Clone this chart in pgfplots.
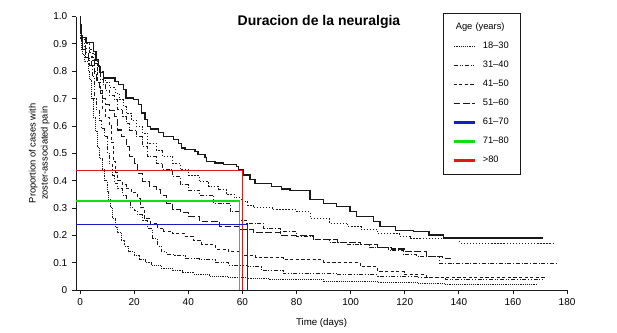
\documentclass[border=0pt]{standalone}
\usepackage{pgfplots}
\pgfplotsset{compat=1.18}
\usepackage{fontspec}
\setmainfont{Liberation Sans}
\definecolor{cred}{RGB}{222,25,25}
\definecolor{cgreen}{RGB}{20,220,20}
\definecolor{cblue}{RGB}{20,30,195}
\definecolor{cblk}{RGB}{25,25,25}
\tikzset{
  s18/.style={cblk, line width=0.7pt, dash pattern=on 0.5pt off 0.9pt},
  s31/.style={cblk, line width=0.7pt, dash pattern=on 3pt off 1.4pt on 0.6pt off 1.4pt on 0.6pt off 1.4pt},
  s41/.style={cblk, line width=0.7pt, dash pattern=on 2.4pt off 1.8pt},
  s51/.style={cblk, line width=0.8pt, dash pattern=on 5pt off 2pt},
  s61/.style={cblk, line width=0.7pt, dash pattern=on 3pt off 1.4pt on 0.6pt off 1.4pt},
  s71/.style={cblk, line width=0.7pt, dash pattern=on 1pt off 1.3pt},
  s80/.style={cblk, line width=0.95pt},
}
\begin{document}
\begin{tikzpicture}
\useasboundingbox (0,0) rectangle (462.75pt,249pt);
\begin{axis}[
  at={(57pt,31.5pt)}, anchor=south west,
  scale only axis, width=368.3pt, height=205.1pt,
  xmin=-1.5, xmax=180, ymin=0, ymax=1,
  axis lines=left, axis line style={-, line width=0.6pt, cblk},
  tick align=outside, major tick length=3pt, tick style={line width=0.6pt, cblk},
  xtick={0,20,40,60,80,100,120,140,160,180},
  xticklabels={0,20,40,60,80,100,120,140,160,180},
  ytick={0,0.1,0.2,0.3,0.4,0.5,0.6,0.7,0.8,0.9,1.0},
  yticklabels={0,0.1,0.2,0.3,0.4,0.5,0.6,0.7,0.8,0.9,1.0},
  /pgf/number format/assume math mode=true,
  tick label style={font=\fontsize{7.5}{9}\selectfont},
  xlabel={Time (days)},
  xlabel style={font=\fontsize{7.3}{9}\selectfont, yshift=-2.5pt},
  ylabel={Proportion of cases with\\zoster-associated pain},
  ylabel style={align=center, font=\fontsize{7}{9}\selectfont},
  ylabel shift=-4pt,
  clip=false,
  legend image code/.code={\draw[#1] (0pt,0pt) -- (15.75pt,0pt);},
  legend cell align=left,
  legend style={at={(axis cs:134.1,1.014)}, anchor=north west, draw=cblk, line width=0.5pt,
    font=\fontsize{7}{8}\selectfont, inner xsep=6.75pt, inner ysep=7.5pt,
    row sep=7.75pt, column sep=5pt,
    nodes={inner sep=0pt, text height=5pt, text depth=1.5pt, text width=21.5pt, align=left}},
]
% >80 (solid)
\addplot[s80, const plot mark left, forget plot] coordinates {
(0,1.0)(0.15,0.97)(0.3,0.94)(0.45,0.922)(2.2,0.904)(4.9,0.873)(5.9,0.842)(6.8,0.818)(7.4,0.794)(8.6,0.775)(12.9,0.763)(14.2,0.751)(16.0,0.733)(17.0,0.702)(19.7,0.696)(21.5,0.678)(22.8,0.647)(24.0,0.623)(24.9,0.598)(25.9,0.589)(28.9,0.576)(30.8,0.562)(34.5,0.549)(36.3,0.537)(37.6,0.519)(38.8,0.513)(42.5,0.507)(43.6,0.495)(46.2,0.484)(46.8,0.47)(49.9,0.464)(53.0,0.458)(57.9,0.452)(58.5,0.44)(60.4,0.421)(62.8,0.403)(64.7,0.39)(70.8,0.378)(74.5,0.369)(77.6,0.364)(85.0,0.332)(90.0,0.317)(94.9,0.305)(99.8,0.287)(102.3,0.268)(108.4,0.25)(110.9,0.232)(116.7,0.217)(123.2,0.213)(129,0.201)(134.3,0.19)(171.1,0.19)};
% 71-80 (dotted)
\addplot[s71, const plot mark left, forget plot] coordinates {
(0,1.0)(0.2,0.96)(0.5,0.93)(1,0.915)(2,0.90)(3.5,0.88)(4.8,0.86)(5.8,0.84)(6.5,0.82)(7.5,0.80)(8.5,0.78)(9.5,0.76)(11,0.74)(13,0.72)(14.5,0.695)(16,0.67)(17,0.646)(19,0.62)(20.7,0.597)(23.2,0.573)(25,0.536)(28.1,0.512)(30.6,0.487)(34.3,0.463)(37,0.44)(40,0.42)(44,0.396)(47.5,0.38)(51,0.366)(54,0.35)(57,0.337)(59.5,0.325)(62,0.31)(64,0.30)(71,0.293)(80,0.286)(85,0.262)(92,0.245)(99,0.231)(104,0.22)(110,0.205)(118,0.195)(122,0.189)(140.4,0.171)(175,0.171)};
% 61-70 (dash-dot)
\addplot[s61, const plot mark left, forget plot] coordinates {
(0,1.0)(0.2,0.95)(0.5,0.92)(1,0.90)(2,0.885)(3.5,0.87)(4.5,0.85)(5.5,0.83)(6.5,0.80)(7.5,0.77)(8.5,0.75)(9.5,0.73)(11,0.71)(12.7,0.695)(14,0.66)(15.8,0.634)(17,0.61)(18.2,0.585)(20.7,0.56)(23.2,0.524)(25,0.487)(28.1,0.463)(30.6,0.439)(34.3,0.415)(37,0.385)(40,0.365)(44.3,0.347)(49.4,0.317)(55.5,0.286)(59,0.256)(61.6,0.244)(67.8,0.226)(74,0.213)(80,0.195)(86.2,0.183)(92,0.175)(98.5,0.165)(107,0.155)(114,0.145)(119.5,0.13)(124.4,0.122)(133,0.097)(176,0.097)};
% 51-60 (long dash)
\addplot[s51, const plot mark left, forget plot] coordinates {
(0,1.0)(0.2,0.94)(0.5,0.90)(1,0.88)(2,0.86)(3,0.84)(4.2,0.82)(5.2,0.79)(6.2,0.76)(7.2,0.73)(8.2,0.70)(9.5,0.68)(10.8,0.658)(12.7,0.634)(13.9,0.585)(15.2,0.56)(17,0.524)(18.2,0.487)(20.1,0.463)(21.3,0.427)(23.2,0.396)(25.6,0.378)(28.1,0.366)(29.9,0.347)(31.8,0.317)(34.3,0.293)(37,0.283)(40,0.27)(44,0.25)(51.7,0.232)(59,0.22)(64,0.21)(74,0.2)(86.2,0.185)(95,0.175)(103.5,0.165)(110,0.155)(115,0.15)(120,0.14)(128,0.122)(134,0.115)(138,0.115)};
% 41-50 (dashed)
\addplot[s41, const plot mark left, forget plot] coordinates {
(0,1.0)(0.2,0.94)(0.5,0.91)(1,0.89)(2,0.87)(3,0.855)(4.3,0.84)(5.5,0.80)(6.5,0.76)(7.5,0.72)(8.4,0.66)(9.5,0.63)(10.8,0.60)(11.5,0.54)(12.3,0.47)(13.2,0.43)(14,0.40)(15.5,0.385)(17,0.37)(19,0.355)(21.3,0.335)(22.5,0.30)(23.8,0.26)(26,0.245)(28.7,0.226)(31,0.215)(34.3,0.205)(39,0.195)(42,0.18)(45,0.165)(50,0.15)(55,0.14)(60,0.125)(65,0.118)(75,0.11)(90,0.10)(103.5,0.085)(110,0.067)(120,0.055)(128,0.045)(172,0.045)};
% 31-40 (dash-dot-dot)
\addplot[s31, const plot mark left, forget plot] coordinates {
(0,1.0)(0.2,0.93)(0.5,0.90)(1,0.88)(2,0.85)(3.5,0.82)(4.5,0.78)(5.3,0.70)(6,0.66)(7,0.62)(8,0.59)(9,0.56)(10,0.50)(11,0.46)(12,0.42)(12.7,0.39)(14,0.37)(15.8,0.347)(17,0.323)(18.5,0.30)(20,0.29)(21.3,0.275)(23.2,0.256)(25,0.226)(26.9,0.189)(28.7,0.16)(30,0.14)(32,0.13)(35,0.125)(39,0.115)(44,0.11)(50,0.10)(55,0.09)(62,0.085)(67,0.07)(75,0.06)(95,0.055)(110,0.049)(125,0.045)(135,0.037)(171,0.037)};
% 18-30 (fine dotted)
\addplot[s18, const plot mark left, forget plot] coordinates {
(0,1.0)(0.2,0.92)(0.5,0.88)(1,0.86)(1.5,0.835)(3,0.80)(3.6,0.77)(4.3,0.70)(5,0.63)(5.8,0.58)(6.5,0.52)(7.3,0.48)(8.2,0.44)(9.2,0.40)(10,0.36)(10.6,0.33)(11.2,0.30)(12,0.26)(13,0.23)(14,0.21)(15.2,0.18)(16.5,0.16)(18,0.14)(20,0.125)(22,0.11)(24,0.10)(26.5,0.09)(30,0.08)(34,0.07)(38,0.065)(42,0.058)(48,0.05)(55,0.046)(62,0.043)(70,0.037)(90,0.03)(110,0.027)(125,0.024)(135,0.02)(169,0.02)};
% annotation lines
\addplot[cred, line width=0.8pt, forget plot] coordinates {(-1.5,0.438)(60.1,0.438)(60.1,0)};
\addplot[cgreen, line width=1pt, forget plot] coordinates {(-1.5,0.325)(58.9,0.325)(58.9,0)};
\addplot[cblue, line width=0.8pt, forget plot] coordinates {(-1.5,0.24)(62,0.24)(62,0)};
% legend
\addlegendimage{empty legend}
\addlegendentry{\hspace*{-20.25pt}Age (years)}
\addlegendimage{s18}
\addlegendentry{18--30}
\addlegendimage{s31}
\addlegendentry{31--40}
\addlegendimage{s41}
\addlegendentry{41--50}
\addlegendimage{s51}
\addlegendentry{51--60}
\addlegendimage{cblue, line width=2.2pt}
\addlegendentry{61--70}
\addlegendimage{cgreen, line width=2.2pt}
\addlegendentry{71--80}
\addlegendimage{cred, line width=2.2pt}
\addlegendentry{>80}
\node[font=\bfseries\fontsize{10.5}{12}\selectfont] at (axis cs:88.3,0.98) {Duracion de la neuralgia};
\end{axis}
\end{tikzpicture}
\end{document}
